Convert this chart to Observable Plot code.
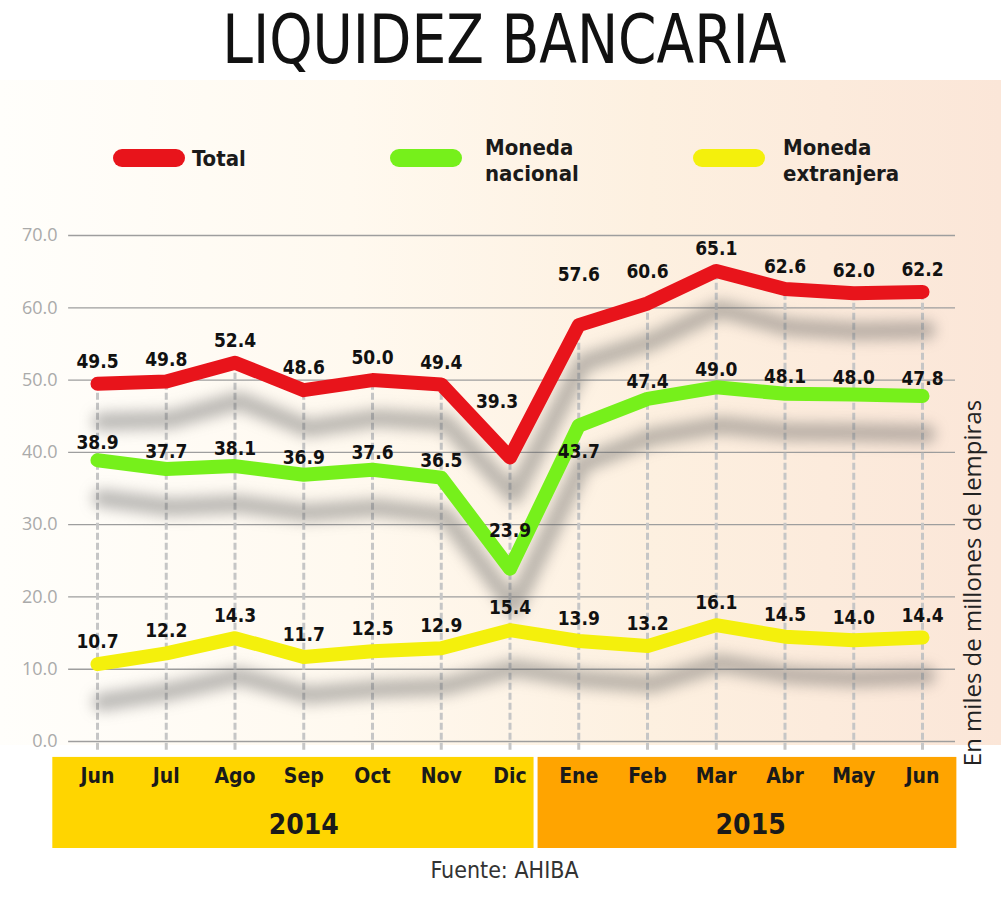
<!DOCTYPE html>
<html><head><meta charset="utf-8">
<script src="https://cdn.jsdelivr.net/npm/d3@7"></script>
<script src="https://cdn.jsdelivr.net/npm/@observablehq/plot@0.6"></script>
<style>
body{margin:0;background:#fff;}
#wrap{position:relative;width:1001px;height:900px;overflow:hidden;background:#fff;}
#bg{position:absolute;left:0;top:80px;width:1001px;height:665px;
 background:linear-gradient(90deg,#fffefb 0%,#fff9ef 35%,#fdf0e0 65%,#fbe6d8 100%);}
#title{position:absolute;top:0;left:0;width:1001px;height:80px;text-align:center;}
#title span{display:inline-block;transform:scaleX(0.9);transform-origin:center;font-family:"DejaVu Sans Condensed",sans-serif;font-size:68px;line-height:80px;color:#111;margin-left:8px;}
#chart{position:absolute;top:80px;left:0;}
.pill{position:absolute;width:72px;height:18px;border-radius:9px;}
.leg{position:absolute;font-family:"DejaVu Sans Condensed",sans-serif;font-weight:bold;font-size:22px;line-height:26px;color:#1a1a1a;}
#unit{position:absolute;left:772px;top:569px;width:400px;height:28px;line-height:28px;text-align:center;transform:rotate(-90deg);transform-origin:center;font-family:"Open Sans",sans-serif;font-size:24px;color:#222;}
#src{position:absolute;left:0;top:857px;width:1001px;text-align:center;font-family:"DejaVu Sans Condensed",sans-serif;font-size:23px;color:#333;}
#src span{margin-left:8px;}
</style></head>
<body>
<div id="wrap">
 <div id="bg"></div>
 <div id="title"><span>LIQUIDEZ BANCARIA</span></div>
 <div id="chart"></div>
 <div id="legend"></div>
 <div id="unit">En miles de millones de lempiras</div>
 <div id="src"><span>Fuente: AHIBA</span></div>
</div>
<script>
// ---- data ----
const months = ["Jun","Jul","Ago","Sep","Oct","Nov","Dic","Ene","Feb","Mar","Abr","May","Jun"];
const monthYear = ["2014","2014","2014","2014","2014","2014","2014","2015","2015","2015","2015","2015","2015"];
const years = ["2014","2015"];
const total = [49.5,49.8,52.4,48.6,50.0,49.4,39.3,57.6,60.6,65.1,62.6,62.0,62.2];
const nacional = [38.9,37.7,38.1,36.9,37.6,36.5,23.9,43.7,47.4,49.0,48.1,48.0,47.8];
const extranjera = [10.7,12.2,14.3,11.7,12.5,12.9,15.4,13.9,13.2,16.1,14.5,14.0,14.4];
const seriesNames = ["Total","Moneda nacional","Moneda extranjera"];
const legendLines = [["Total"],["Moneda","nacional"],["Moneda","extranjera"]];
const yTicks = [0,10,20,30,40,50,60,70];

// ---- build ----
const colors = {"Total":"#e8141b","Moneda nacional":"#76f01b","Moneda extranjera":"#f4f00c"};
const seriesVals = [total, nacional, extranjera];
const rows = [];
seriesNames.forEach((s,k)=>seriesVals[k].forEach((v,i)=>rows.push({i, month:months[i], value:v, series:s})));
const totalRows = rows.filter(d=>d.series==="Total");
const monthRows = months.map((m,i)=>({i, m, year:monthYear[i]}));
const yearRows = years.map((y,k)=>{
  const idx = monthRows.filter(d=>d.year===y).map(d=>d.i);
  return {year:y, start:d3.min(idx), end:d3.max(idx), mid:d3.mean(idx), last:k===years.length-1};
});
yearRows.forEach((d,k)=>{
  d.x1 = d.start - 0.65;
  d.x2 = d.last ? d.end + 0.5 : yearRows[k+1].start - 0.65;
});

// label offsets (layout rule, not data)
function labelDy(d){
  if (d.i===6) return d.series==="Total" ? -56 : d.series==="Moneda nacional" ? -38 : -22;
  if (d.i===7 && d.series==="Total") return -50;
  if (d.i===7 && d.series==="Moneda nacional") return 26;
  if (d.i===8 && d.series==="Total") return -32;
  if (d.series==="Moneda nacional") return -17;
  return -22;
}
const labelRows = rows.map(d=>({...d, dy:labelDy(d), dx:(d.i===6&&d.series==="Total")?-13:0}));
const dyGroups = d3.groups(labelRows, d=>d.dy+"|"+d.dx);

const fontC = '"DejaVu Sans Condensed",sans-serif';

const plot = Plot.plot({
  width:1001, height:775,
  marginLeft:62, marginRight:0, marginTop:0, marginBottom:7,
  style:{background:"transparent", overflow:"visible", fontFamily:fontC},
  x:{domain:[0,12], range:[97,922], axis:null},
  y:{domain:[-14.8,70], range:[768,155], axis:null},
  marks:[
    Plot.ruleY(yTicks, {y:d=>d, x1:-0.42, x2:12.48, stroke:"#9e9e9e", strokeWidth:1.3}),
    Plot.text(yTicks, {y:d=>d, frameAnchor:"left", textAnchor:"end", dx:-5, text:d=>d.toFixed(1), fill:"#aaaaaa", fontSize:18, fontFamily:'"Open Sans",sans-serif'}),
    Plot.ruleX(totalRows, {x:"i", y1:-1.2, y2:"value", stroke:"#c6c6c6", strokeWidth:3, strokeDasharray:"7,3"}),
    Plot.line(rows, {x:"i", y:"value", z:"series", stroke:"#5a5a5a", strokeOpacity:0.42, strokeWidth:18, dy:38, dx:4, strokeLinejoin:"round", strokeLinecap:"round"}),
    Plot.line(rows, {x:"i", y:"value", z:"series", stroke:d=>colors[d.series], strokeWidth:14, strokeLinejoin:"round", strokeLinecap:"round"}),
    ...dyGroups.map(([key,g])=>Plot.text(g, {x:"i", y:"value", text:d=>d.value.toFixed(1), dy:g[0].dy, dx:g[0].dx, fill:"#111", fontSize:19, fontWeight:"bold"})),
    Plot.rect(yearRows, {x1:"x1", x2:"x2", y1:-2.2, y2:-14.8, fill:d=>d.year==="2014"?"#ffd500":"#ffa400"}),
    Plot.text(monthRows, {x:"i", y:-4.8, text:"m", fill:"#1a1a1a", fontSize:21, fontWeight:"bold"}),
    Plot.text(yearRows, {x:"mid", y:-11.6, text:"year", fill:"#1a1a1a", fontSize:28, fontWeight:"bold"})
  ]
});
document.getElementById("chart").appendChild(plot);
// blur the shadow line group
const lineGroups = plot.querySelectorAll('g[aria-label="line"]');
if (lineGroups.length) lineGroups[0].style.filter = "blur(7px)";
// small gap between the year bands
const rects = plot.querySelectorAll('g[aria-label="rect"] rect');
if (rects.length > 1) { const r = rects[1]; r.setAttribute("x", +r.getAttribute("x") + 4); r.setAttribute("width", +r.getAttribute("width") - 4); }

// legend
const legend = document.getElementById("legend");
const legPos = [{pill:113, text:192}, {pill:390, text:485}, {pill:693, text:783}];
seriesNames.forEach((s,k)=>{
  const p = document.createElement("div");
  p.className="pill"; p.style.left=legPos[k].pill+"px"; p.style.top="149px"; p.style.background=colors[s];
  legend.appendChild(p);
  const t = document.createElement("div");
  t.className="leg"; t.style.left=legPos[k].text+"px";
  t.style.top = legendLines[k].length===1 ? "146px" : "135px";
  t.innerHTML = legendLines[k].join("<br>");
  legend.appendChild(t);
});
</script>
</body></html>
